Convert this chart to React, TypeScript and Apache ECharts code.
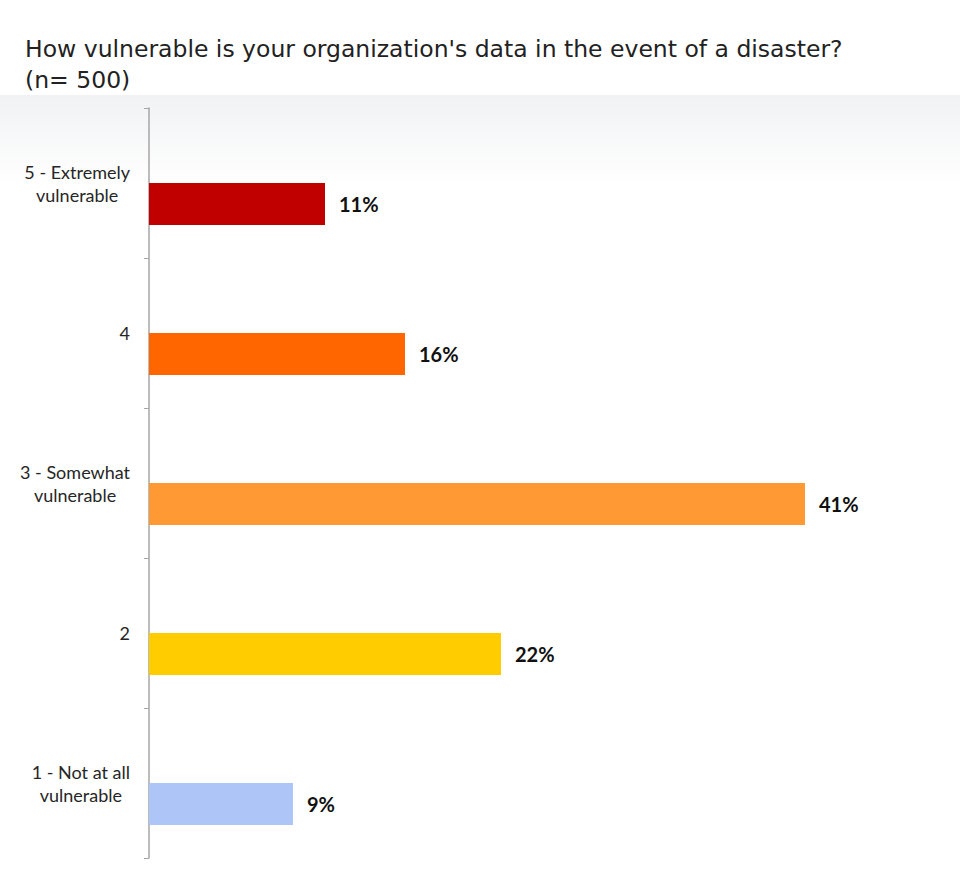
import React, { useEffect, useRef } from "react";
import * as echarts from "echarts";

const categories = ["5 - Extremely\nvulnerable", "4", "3 - Somewhat\nvulnerable", "2", "1 - Not at all\nvulnerable"];
const values = [11, 16, 41, 22, 9];
const barColors = ["#c00000", "#ff6600", "#ff9933", "#ffcc00", "#adc6f7"];
const titleText = "How vulnerable is your organization's data in the event of a disaster?\n(n= 500)";

export default function App() {
  const ref = useRef<HTMLDivElement>(null);
  useEffect(() => {
    if (!ref.current) return;
    const chart = echarts.init(ref.current, undefined, { renderer: "svg" });
    chart.setOption({
      animation: false,
      backgroundColor: "#ffffff",
      title: {
        text: titleText,
        left: 20,
        top: 28,
        textStyle: {
          fontFamily: "DejaVu Sans",
          fontSize: 23.5,
          fontWeight: "normal",
          color: "#222222",
          lineHeight: 31,
        },
      },
      graphic: [
        {
          type: "rect",
          left: 0,
          top: 95,
          shape: { width: 960, height: 90 },
          silent: true,
          z: -10,
          style: {
            fill: new echarts.graphic.LinearGradient(0, 0, 0, 1, [
              { offset: 0, color: "#f1f2f4" },
              { offset: 1, color: "#ffffff" },
            ]),
          },
        },
      ],
      grid: { left: 149, top: 108, width: 800, height: 750, containLabel: false },
      xAxis: {
        type: "value",
        min: 0,
        max: 50,
        show: false,
      },
      yAxis: {
        type: "category",
        inverse: true,
        data: categories,
        axisLine: { show: true, lineStyle: { color: "#a6a6a6", width: 1.5 } },
        axisTick: { show: true, length: 5, lineStyle: { color: "#a6a6a6", width: 1 } },
        axisLabel: {
          margin: 19,
          formatter: (v: string) => {
            if (v.indexOf("\n") >= 0) {
              return v
                .split("\n")
                .map((s) => "{c|" + s + "}")
                .join("\n");
            }
            return "{r|" + v + "}";
          },
          rich: {
            c: {
              align: "center",
              fontFamily: "Lato",
              fontSize: 18,
              lineHeight: 23,
              color: "#262626",
            },
            r: {
              align: "right",
              fontFamily: "Lato",
              fontSize: 18,
              lineHeight: 23,
              color: "#262626",
            },
          },
        },
        splitLine: { show: false },
      },
      series: [
        {
          type: "bar",
          data: categories.map(() => null),
          barWidth: 42,
          barGap: "0%",
          silent: true,
        },
        {
          type: "bar",
          barWidth: 42,
          barGap: "0%",
          data: values.map((v, i) => ({ value: v, itemStyle: { color: barColors[i] } })),
          label: {
            show: true,
            position: "right",
            distance: 14,
            formatter: "{c}%",
            fontFamily: "Lato",
            fontWeight: "bold",
            fontSize: 20,
            color: "#111111",
          },
        },
      ],
    });
    return () => chart.dispose();
  }, []);
  return <div ref={ref} style={{ position: "fixed", left: 0, top: 0, width: 960, height: 892 }} />;
}
